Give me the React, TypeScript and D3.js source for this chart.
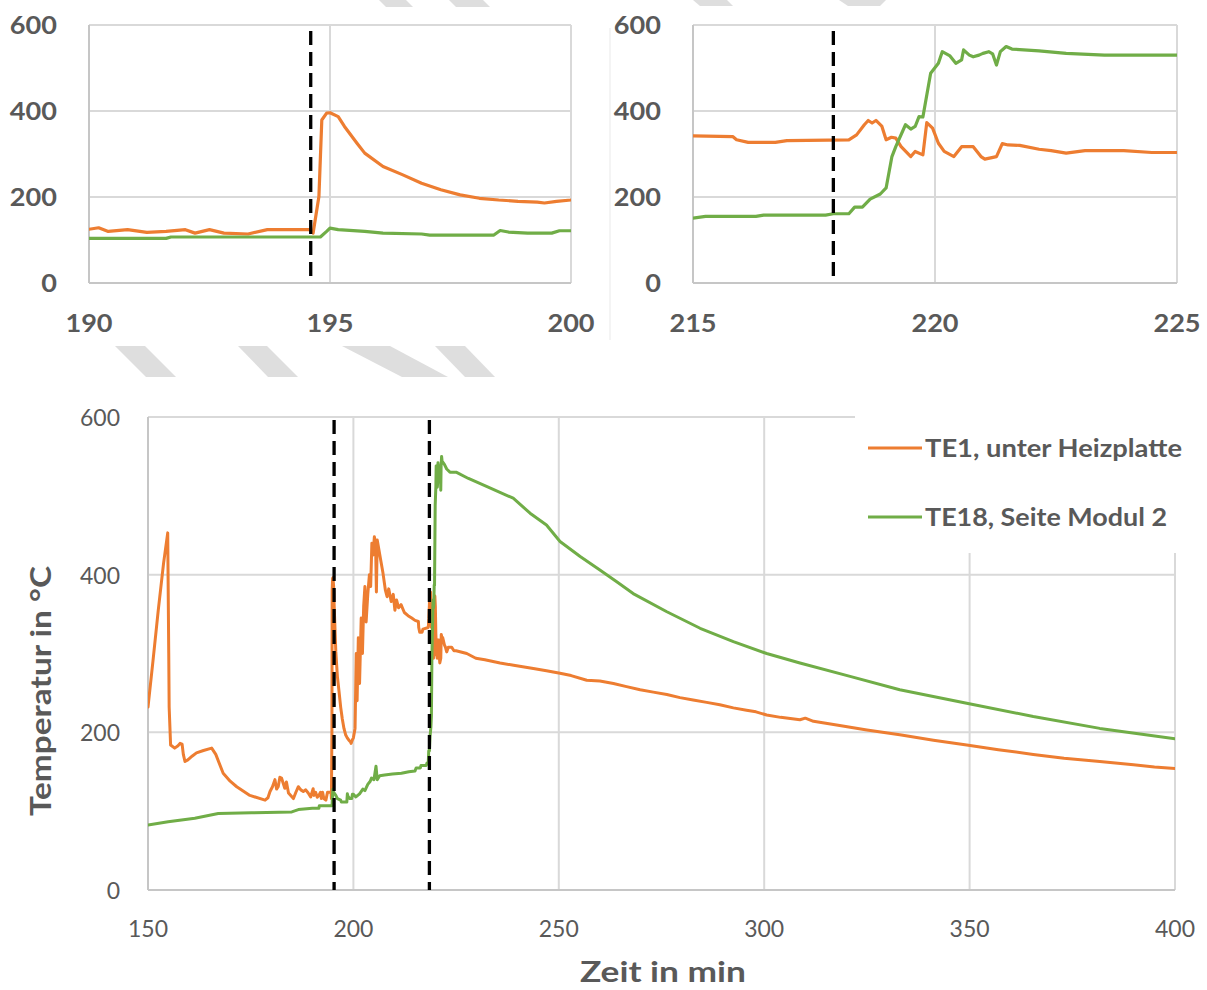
import React from 'react';
import * as d3 from 'd3';

// ---------- data (time in min, temperature in °C) ----------
const TE1: [number, number][] = [
  [150, 232], [151.2, 290], [152.5, 355], [153.8, 415], [154.8, 453], [155.05, 300], [155.15, 232], [155.5, 184],
  [156.5, 180], [157.3, 183], [157.8, 186], [158.3, 185], [158.6, 172], [159, 163], [159.7, 165], [160.8, 170],
  [161.8, 174], [163.5, 177], [165.5, 180], [166.5, 172], [168.3, 148], [170, 138], [171.6, 131], [174.8, 120],
  [178.5, 114], [179.2, 117], [179.7, 125], [180.3, 131], [180.9, 140], [181.3, 128], [181.7, 131], [182.1, 143],
  [182.5, 142], [183.3, 129], [183.7, 137], [184.2, 123], [185.4, 116], [186, 124], [186.6, 131], [187.2, 127],
  [187.8, 125], [188.4, 127], [189, 123], [189.6, 118], [190, 125],
  [190.2, 128.5], [190.4, 120], [190.8, 124], [191.2, 117.7], [191.6, 120], [192, 124], [192.2, 116], [192.5, 124],
  [192.8, 116], [193.3, 114], [193.7, 124], [194.57, 124], [194.65, 116], [194.77, 201], [194.83, 379], [194.93, 395],
  [195.0, 396], [195.17, 387], [195.3, 364], [195.56, 325], [195.72, 302], [196.1, 271], [196.5, 252], [196.9, 232],
  [197.3, 217], [197.7, 205], [198.1, 197], [198.5, 193], [198.9, 190], [199.3, 188], [199.45, 186], [199.7, 190],
  [200, 193],
  [200.4, 205], [200.7, 300], [200.9, 240], [201.2, 320], [201.5, 262], [201.9, 345], [202.2, 300], [202.5, 360],
  [202.8, 385], [203.1, 340], [203.5, 375], [203.9, 400], [204.2, 385], [204.5, 440], [204.8, 425], [205.1, 448],
  [205.4, 440], [205.6, 378], [205.8, 444], [206.2, 432], [206.6, 420], [207.2, 402], [207.8, 380], [208.2, 372],
  [208.6, 382], [209.2, 366], [209.7, 375], [210.1, 355], [210.5, 368], [211, 358], [211.6, 362], [212.4, 352],
  [213.3, 348], [214.2, 345], [215, 342],
  [215.82, 340.6], [215.9, 333], [216.14, 327], [216.7, 327], [216.94, 331], [218.22, 333], [218.38, 344.5],
  [218.54, 368], [218.62, 378], [218.7, 372], [218.78, 378], [218.9, 365], [218.99, 333], [219.1, 339], [219.19, 337],
  [219.3, 317], [219.5, 294], [219.59, 306], [219.75, 298], [219.83, 373], [219.95, 360], [220.07, 325], [220.19, 306],
  [220.39, 294], [220.55, 317], [220.79, 317], [220.95, 294], [221.03, 288], [221.27, 294], [221.39, 324], [221.51, 321],
  [221.75, 320], [222.15, 311], [222.4, 308], [222.71, 302], [223.1, 308], [223.9, 308], [224.48, 303.5], [225, 303.5],
  [227.6, 300], [229.8, 294], [232, 292], [235.7, 288], [239, 285], [243.8, 281], [247, 278], [250.3, 275],
  [253, 272], [256.8, 266], [260, 265], [263.3, 262], [266.5, 258], [269.8, 254], [273, 251], [276.3, 248],
  [279.5, 244], [282.7, 241], [286, 238], [289.2, 235], [292.5, 231], [295.7, 228], [298, 226], [300.6, 222],
  [304, 219], [308.7, 216], [310, 218], [312, 214], [318, 209], [325, 203], [333, 197], [341.2, 190],
  [349.3, 184], [357, 178], [365.5, 172], [373, 167], [381.7, 163], [389.9, 159], [395, 156], [400, 154],
];

const TE18: [number, number][] = [
  [150, 82.5], [154.9, 86.7], [161.4, 91], [167.1, 97], [175.2, 98], [185, 99], [186.6, 102], [190, 103.7],
  [191.6, 103.7], [191.7, 107], [194.8, 107], [194.93, 120], [195.0, 127.7], [195.17, 124], [195.72, 120], [196.1, 116],
  [196.9, 114], [197.07, 111.5], [198.4, 111.5], [198.53, 122], [198.7, 118.5], [199.1, 116], [199.6, 116],
  [199.76, 121.5], [200, 121.5],
  [200.6, 118], [201.5, 122], [202.3, 128], [202.8, 126], [203.5, 134], [204.1, 138], [204.4, 142], [205, 140],
  [205.5, 157], [205.8, 140], [206.4, 145], [207.6, 146], [209.5, 147], [211.7, 148], [213.5, 150], [215, 151],
  [215.26, 154.8], [216.3, 154.8], [216.46, 158], [217.74, 158], [217.9, 161], [218.22, 161], [218.34, 176.5],
  [218.5, 176.5], [218.66, 195], [218.87, 207], [218.99, 221], [219.11, 294], [219.19, 317], [219.39, 368],
  [219.5, 358], [219.59, 364], [219.67, 387], [219.75, 386], [219.91, 488], [220.07, 511], [220.15, 538],
  [220.31, 528], [220.43, 511], [220.55, 519], [220.59, 542], [220.71, 530], [220.79, 526], [220.91, 530],
  [220.99, 534], [221.11, 538], [221.19, 533], [221.27, 507], [221.35, 538], [221.47, 550], [221.59, 544],
  [222.15, 540], [222.71, 534], [223.5, 530], [225, 530],
  [228, 522], [232.4, 512], [238.9, 497], [243, 478], [247, 463], [250.3, 442], [255.2, 423], [260, 406],
  [264.1, 391], [268.1, 376], [276.3, 353], [284.4, 332], [292.5, 315], [300.6, 300], [308.7, 288], [320.9, 271],
  [333, 254], [349.3, 237], [365.5, 220], [381.7, 205], [400, 192],
];

const yTicks = [0, 200, 400, 600];
const mainXTicks = [150, 200, 250, 300, 350, 400];
const leftXTicks = [190, 195, 200];
const rightXTicks = [215, 220, 225];
const mainMarkers = [195.3, 218.5];
const leftMarkers = [194.6];
const rightMarkers = [217.9];
const seriesNames = ['TE1, unter Heizplatte', 'TE18, Seite Modul 2'];
const seriesColors = ['#ED7D31', '#70AD47'];
const legendTextWidths = [257, 242];

// decorative grey stripes (page background)
const stripes: [number, number][][] = [
  [[379, 0], [406, 0], [413, 7], [386, 7]],
  [[449, 0], [483, 0], [490, 7], [456, 7]],
  [[693, 0], [727, 0], [733, 6], [700, 6]],
  [[839, 0], [886, 0], [880, 6], [848, 6]],
  [[115, 346], [145, 346], [176, 377], [146, 377]],
  [[238, 346], [267, 346], [298, 377], [268, 377]],
  [[342, 346], [390, 346], [448, 377], [402, 377]],
  [[435, 346], [465, 346], [495, 377], [465, 377]],
];

const GRID = '#d9d9d9';
const AXIS = '#c6c6c6';
const TXT = '#595959';
const FONT = 'Lato, "Open Sans", sans-serif';

type PanelProps = {
  id: string;
  x0: number; x1: number; y0: number; y1: number;
  domain: [number, number];
  xTicks: number[];
  markers: number[];
  markerTop: number;
  big: boolean;
  width: number;
};

function Panel(p: PanelProps) {
  const x = d3.scaleLinear().domain(p.domain).range([p.x0, p.x1]);
  const y = d3.scaleLinear().domain([0, 600]).range([p.y1, p.y0]);
  const line = d3.line<[number, number]>().x(d => x(d[0])).y(d => y(d[1]));
  const tickFont = p.big ? 24 : 23;
  const labelText = (tx: number, ty: number, s: string, anchor: string, key: string) =>
    p.big ? (
      <text key={key} transform={`translate(${tx},${ty}) scale(1.13,1)`} textAnchor={anchor}
        dominantBaseline="central" fontFamily={FONT} fontWeight={700} fontSize={tickFont} fill={TXT}>{s}</text>
    ) : (
      <text key={key} x={tx} y={ty} textAnchor={anchor} dominantBaseline="central"
        fontFamily={FONT} fontWeight={400} fontSize={tickFont} fill={TXT}>{s}</text>
    );
  return (
    <g>
      <defs>
        <clipPath id={`clip-${p.id}`}>
          <rect x={p.x0} y={p.y0 - 4} width={p.x1 - p.x0} height={p.y1 - p.y0 + 8} />
        </clipPath>
      </defs>
      {yTicks.filter(t => t > 0).map(t => (
        <line key={`h${t}`} x1={p.x0} x2={p.x1} y1={y(t)} y2={y(t)} stroke={GRID} strokeWidth={2} />
      ))}
      {p.xTicks.slice(1).map(t => (
        <line key={`v${t}`} x1={x(t)} x2={x(t)} y1={p.y0} y2={p.y1} stroke={GRID} strokeWidth={2} />
      ))}
      <line x1={p.x0} x2={p.x0} y1={p.y0} y2={p.y1} stroke={AXIS} strokeWidth={2} />
      <line x1={p.x0} x2={p.x1} y1={p.y1} y2={p.y1} stroke={AXIS} strokeWidth={2} />
      {p.id === 'main' && <rect x={855} y={404} width={345} height={149} fill="#fff" />}
      <g clipPath={`url(#clip-${p.id})`}>
        {[TE1, TE18].map((s, i) => (
          <path key={i} d={line(s) || ''} fill="none" stroke={seriesColors[i]} strokeWidth={p.width}
            strokeLinejoin="round" strokeLinecap="round" />
        ))}
      </g>
      {p.markers.map(m => (
        <line key={`m${m}`} x1={x(m)} x2={x(m)} y1={p.markerTop} y2={p.y1} stroke="#000"
          strokeWidth={3.3} strokeDasharray="14 7" />
      ))}
      {yTicks.map(t => labelText(p.x0 - (p.big ? 32 : 28), y(t), String(t), 'end', `yl${t}`))}
      {p.xTicks.map(t => labelText(x(t), p.y1 + (p.big ? 40 : 38), String(t), 'middle', `xl${t}`))}
    </g>
  );
}

export default function App() {
  return (
    <svg width={1207} height={990} style={{ position: 'absolute', left: 0, top: 0, background: '#fff' }}>
      <rect x={0} y={0} width={1207} height={990} fill="#fff" />
      {stripes.map((s, i) => (
        <polygon key={i} points={s.map(q => q.join(',')).join(' ')} fill="#dedede" />
      ))}
      <line x1={610} x2={610} y1={28} y2={340} stroke="#f0f0f0" strokeWidth={1.5} />
      <Panel id="left" x0={89} x1={571} y0={25} y1={283} domain={[190, 200]} xTicks={leftXTicks}
        markers={leftMarkers} markerTop={31} big={true} width={3.2} />
      <Panel id="right" x0={693} x1={1177} y0={25} y1={283} domain={[215, 225]} xTicks={rightXTicks}
        markers={rightMarkers} markerTop={31} big={true} width={3.2} />
      <Panel id="main" x0={148} x1={1175} y0={417} y1={890} domain={[150, 400]} xTicks={mainXTicks}
        markers={mainMarkers} markerTop={420} big={false} width={3} />
      {seriesNames.map((n, i) => (
        <g key={n}>
          <line x1={868} x2={922} y1={448 + i * 69} y2={448 + i * 69} stroke={seriesColors[i]} strokeWidth={3} />
          <text x={925} y={457 + i * 69} fontFamily={FONT} fontWeight={700} fontSize={25} fill={TXT}
            textLength={legendTextWidths[i]} lengthAdjust="spacingAndGlyphs">{n}</text>
        </g>
      ))}
      <text transform="translate(51,691) rotate(-90)" textAnchor="middle" fontFamily={FONT} fontWeight={700}
        fontSize={29} fill={TXT} textLength={250} lengthAdjust="spacingAndGlyphs">Temperatur in °C</text>
      <text x={663} y={982} textAnchor="middle" fontFamily={FONT} fontWeight={700} fontSize={28}
        fill={TXT} textLength={166} lengthAdjust="spacingAndGlyphs">Zeit in min</text>
    </svg>
  );
}
